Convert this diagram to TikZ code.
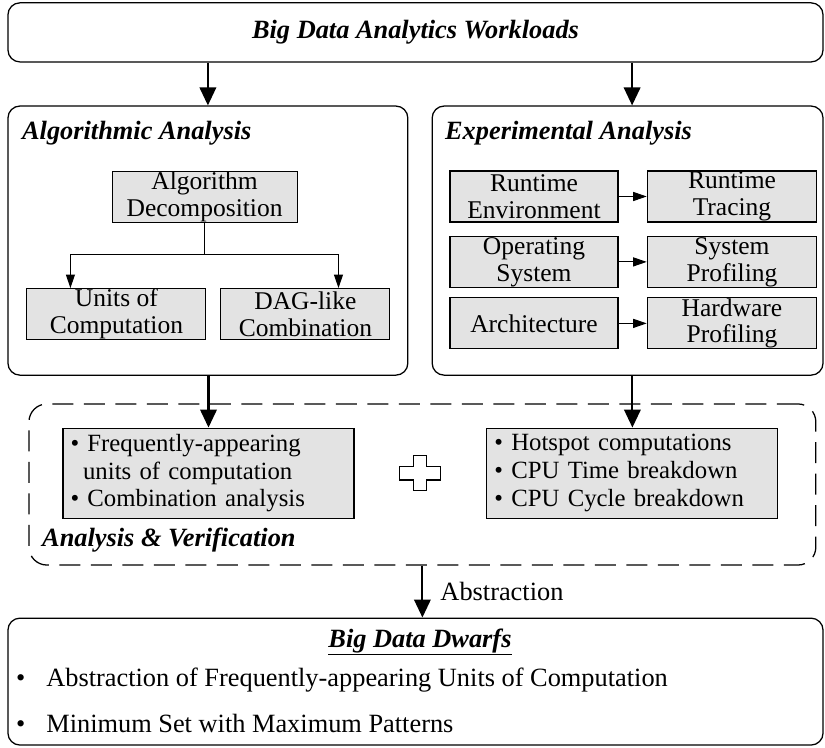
\documentclass[tikz,border=0pt]{standalone}
\usepackage{fontspec}
\setmainfont{Liberation Serif}
\usetikzlibrary{arrows.meta}

\begin{document}
\begin{tikzpicture}[font=\fontsize{24.2}{25.6}\selectfont,
	frame/.style={draw,line width=1.2pt,rounded corners=0.4cm},
	cell/.style={draw,line width=1pt,fill=gray!22,align=center,inner sep=0pt,minimum height=1.7cm,minimum width=#1},
	cell/.default=5.6cm,
	bullets/.style={draw,line width=1pt,fill=gray!22,align=left,text width=9.2cm,inner xsep=0.25cm,inner ysep=0pt,minimum height=3cm,font=\fontsize{23.5}{26.5}\selectfont},
	heading/.style={font=\fontsize{25}{27}\selectfont\bfseries\itshape},
	bigarrow/.style={-{Triangle[length=0.6cm,width=0.55cm]},line width=2pt},
	smallarrow/.style={-{Triangle[length=0.45cm,width=0.3cm]},line width=1pt}]
	\useasboundingbox (0,0) rectangle (27.5,24.9);
	% top
	\node[frame,heading,minimum width=27.17cm,minimum height=1.97cm] (workloads) at (13.85,23.82) {Big Data Analytics Workloads};
	% two analysis frames
	\node[frame,minimum width=13.33cm,minimum height=8.97cm] (algo) at (6.93,16.88) {};
	\node[frame,minimum width=13.03cm,minimum height=8.97cm] (expt) at (20.92,16.88) {};
	\node[heading,anchor=west,inner sep=0pt] (algotitle) at (0.73,20.47) {Algorithmic Analysis};
	\node[heading,anchor=west,inner sep=0pt] (expttitle) at (14.83,20.47) {Experimental Analysis};
	\draw[bigarrow] (workloads.south -| algo.north) -- (algo.north);
	\draw[bigarrow] ([xshift=0.15cm]workloads.south -| expt.north) -- ([xshift=0.15cm]expt.north);
	% algorithmic side
	\node[cell=6.17cm] (decomp) at (6.82,18.33) {Algorithm\\Decomposition};
	\node[cell=5.97cm] (units) at (3.88,14.43) {Units of\\Computation};
	\node[cell=5.63cm] (dag) at (10.18,14.43) {DAG-like\\Combination};
	\coordinate (fork) at (6.82,16.43);
	\draw[line width=1pt] (decomp.south) -- (fork);
	\draw[smallarrow] (fork) -| ([xshift=1.47cm]units.north west);
	\draw[smallarrow] (fork) -| ([xshift=-1.73cm]dag.north east);
	% experimental side
	\node[cell] (rtenv) at (17.8,18.35) {Runtime\\Environment};
	\node[cell=5.65cm] (rttrace) at (24.4,18.35) {Runtime\\Tracing};
	\node[cell] (os) at (17.8,16.17) {Operating\\System};
	\node[cell=5.65cm] (sysprof) at (24.4,16.17) {System\\Profiling};
	\node[cell] (arch) at (17.8,14.12) {Architecture};
	\node[cell=5.65cm] (hwprof) at (24.4,14.12) {Hardware\\Profiling};
	\draw[smallarrow] (rtenv) -- (rttrace);
	\draw[smallarrow] (os) -- (sysprof);
	\draw[smallarrow] (arch) -- (hwprof);
	% analysis & verification
	\node[frame,dash pattern=on 0.7cm off 0.35cm,rounded corners=0.6cm,minimum width=26.23cm,minimum height=5.37cm] (verify) at (14.08,8.75) {};
	\node[bullets] (freq) at (6.95,9.13) {\textbullet{} Frequently-appearing\\\hspace*{0.42cm}units of computation\\\textbullet{} Combination analysis};
	\node[bullets] (hot) at (21.08,9.13) {\textbullet{} Hotspot computations\\\textbullet{} CPU Time breakdown\\\textbullet{} CPU Cycle breakdown};
	\node[heading,anchor=west,inner sep=0pt] (verifytitle) at (1.4,6.9) {Analysis \& Verification};
	\draw[bigarrow] (algo.south -| freq.north) -- (freq.north);
	\draw[bigarrow] (hot.north |- expt.south) -- (hot.north);
	\coordinate (plus) at (14,9.13);
	\draw[line width=1pt,shift={(plus)}] (-0.23,0.58) -- (0.23,0.58) -- (0.23,0.23) -- (0.68,0.23) -- (0.68,-0.23) -- (0.23,-0.23) -- (0.23,-0.58) -- (-0.23,-0.58) -- (-0.23,-0.23) -- (-0.68,-0.23) -- (-0.68,0.23) -- (-0.23,0.23) -- cycle;
	% dwarfs
	\node[frame,minimum width=27.17cm,minimum height=4.23cm] (dwarfs) at (13.85,2.18) {};
	\draw[bigarrow] (verify.south) -- (verify.south |- dwarfs.north) node[midway,right,xshift=0.45cm,font=\fontsize{25}{27}\selectfont] {Abstraction};
	\node[heading] (dwarftitle) at (14,3.5) {\underline{Big Data Dwarfs}};
	\node[anchor=west,inner sep=0pt,font=\fontsize{25}{27}\selectfont] (item1) at (0.53,2.23) {\textbullet\hspace{0.7cm}Abstraction of Frequently-appearing Units of Computation};
	\node[anchor=west,inner sep=0pt,font=\fontsize{25}{27}\selectfont] (item2) at (0.53,0.8) {\textbullet\hspace{0.7cm}Minimum Set with Maximum Patterns};
\end{tikzpicture}
\end{document}
